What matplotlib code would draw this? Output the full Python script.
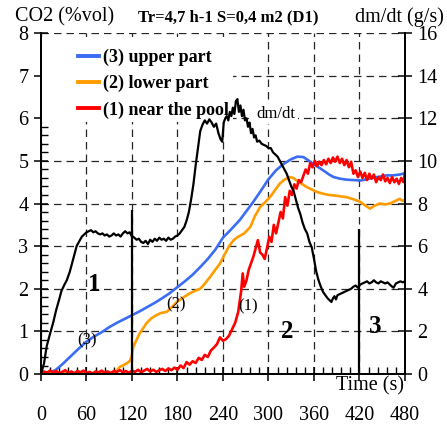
import numpy as np
import matplotlib
matplotlib.use("Agg")
import matplotlib.pyplot as plt
from matplotlib.ticker import MultipleLocator
from matplotlib.patches import Rectangle

plt.rcParams['font.family'] = ['Liberation Serif', 'DejaVu Serif']

# CO2 concentration (%vol), left axis
t_upper = [0, 5, 10, 15, 19, 25, 30, 40, 50, 60, 70, 80, 90, 100, 110, 120, 130, 140, 150, 160,
           170, 180, 190, 200, 210, 220, 230, 240, 250, 262, 270, 280, 290, 300, 310, 320, 330,
           338, 346, 352, 359, 366, 372, 380, 386, 395, 403, 412, 421, 430, 438, 447, 456, 464,
           473, 480]
co2_upper = [0.02, 0.03, 0.04, 0.06, 0.09, 0.18, 0.26, 0.43, 0.6, 0.76, 0.88, 0.98, 1.1, 1.2,
             1.29, 1.38, 1.47, 1.57, 1.67, 1.78, 1.9, 2.04, 2.18, 2.33, 2.51, 2.7, 2.92, 3.2,
             3.38, 3.61, 3.8, 4.04, 4.3, 4.57, 4.78, 4.93, 5.04, 5.1, 5.09, 5.02, 4.93, 4.85,
             4.78, 4.68, 4.62, 4.58, 4.56, 4.55, 4.54, 4.57, 4.61, 4.63, 4.66, 4.66, 4.68, 4.71]

t_lower = [0, 20, 40, 60, 80, 96, 100, 104, 108, 113, 117, 119.6, 121.7, 126, 130, 135, 139, 145,
           152, 158, 166, 172, 179, 188, 196, 203, 210, 216, 223, 230, 236, 242, 248, 254, 260,
           268, 276, 282, 289, 295, 302, 308, 315, 321, 328, 333, 337, 344, 350, 357, 364, 372,
           380, 386, 394, 403, 412, 421, 427, 434, 440, 447, 454, 460, 466, 473, 477, 480]
co2_lower = [0.01, 0.02, 0.01, 0.02, 0.02, 0.03, 0.08, 0.17, 0.2, 0.25, 0.3, 0.41, 0.64, 0.8,
             0.95, 1.08, 1.19, 1.3, 1.38, 1.43, 1.46, 1.56, 1.69, 1.8, 1.89, 1.95, 2.0, 2.12,
             2.28, 2.45, 2.59, 2.8, 3.0, 3.14, 3.22, 3.3, 3.45, 3.7, 3.92, 4.02, 4.15, 4.3, 4.47,
             4.56, 4.62, 4.6, 4.54, 4.46, 4.39, 4.33, 4.27, 4.23, 4.2, 4.19, 4.17, 4.15, 4.1,
             4.04, 3.96, 3.88, 3.95, 4.0, 3.98, 4.0, 4.05, 4.11, 4.06, 4.09]

t_pool = [0, 4, 8, 12, 16, 20, 24, 28, 32, 36, 40, 44, 48, 52, 56, 60, 64, 68, 72, 76, 80, 84,
          88, 92, 96, 100, 104, 108, 112, 116, 120, 124, 128, 132, 136, 140, 144, 148, 152, 156,
          160, 164, 168, 172, 176, 180, 184, 188, 192, 196, 200, 204, 208, 212, 216, 220, 224,
          228, 232, 236, 240, 244, 248, 252, 256, 260, 264, 266, 268, 271, 274, 277, 280, 283,
          286, 289, 292, 295, 298, 301, 304, 307, 310, 313, 316, 319, 322, 325, 328, 331, 334,
          337, 340, 343, 346, 349, 352, 355, 358, 361, 364, 367, 370, 373, 376, 379, 382, 385,
          388, 391, 394, 397, 400, 403, 406, 409, 412, 415, 418, 421, 424, 427, 430, 433, 436,
          439, 442, 445, 448, 451, 454, 457, 460, 463, 466, 469, 472, 475, 478, 480]
co2_pool = [0.02, 0.06, 0.03, 0.08, 0.04, 0.07, 0.02, 0.05, 0.09, 0.03, 0.06, 0.02, 0.07, 0.04,
            0.08, 0.03, 0.05, 0.01, 0.06, 0.04, 0.08, 0.03, 0.06, 0.02, 0.07, 0.05, 0.09, 0.04,
            0.07, 0.03, 0.08, 0.05, 0.1, 0.04, 0.08, 0.12, 0.06, 0.1, 0.05, 0.09, 0.12, 0.07,
            0.13, 0.09, 0.15, 0.1, 0.2, 0.14, 0.28, 0.22, 0.3, 0.26, 0.38, 0.33, 0.45, 0.4, 0.55,
            0.62, 0.7, 0.86, 0.78, 0.82, 0.9, 1.05, 1.2, 1.45, 1.95, 2.36, 2.05, 2.2, 2.45, 2.6,
            2.75, 2.95, 3.14, 2.85, 2.8, 2.7, 2.95, 3.22, 3.1, 3.5, 3.3, 3.55, 3.8, 3.65, 4.15,
            3.95, 4.3, 4.2, 4.45, 4.35, 4.55, 4.5, 4.65, 4.8, 4.7, 4.95, 4.85, 5.0, 4.88, 4.98,
            4.9, 5.02, 4.92, 5.05, 4.95, 5.08, 4.98, 5.1, 4.95, 5.05, 4.9, 5.02, 4.85, 4.98, 4.7,
            4.78, 4.62, 4.75, 4.6, 4.72, 4.55, 4.7, 4.58, 4.68, 4.5, 4.62, 4.55, 4.68, 4.52, 4.6,
            4.48, 4.62, 4.5, 4.58, 4.46, 4.6, 4.5, 4.72]

# mass loss rate dm/dt (g/s), right axis
t_mass = [0, 4, 7.5, 12, 16, 20, 24, 27, 31, 34, 38, 41, 44, 47, 50, 54, 57, 60, 63, 66, 69, 72,
          75, 78, 81, 84, 87, 90, 93, 96, 99, 102, 105, 108, 111, 114, 117, 119, 123, 126, 129,
          132, 135, 138, 141, 144, 147, 150, 153, 156, 159, 162, 165, 168, 171, 174, 177, 180,
          183, 186, 189, 192, 195, 198, 201, 204, 207, 210, 213, 216, 219, 222, 225, 228, 231,
          234, 237, 239, 241, 243, 245, 247, 249, 251, 253, 255, 257, 259, 261, 263, 265, 267,
          269, 271, 273, 275, 277, 279, 281, 283, 285, 288, 291, 294, 297, 300, 303, 306, 309,
          312, 315, 318, 321, 324, 327, 330, 333, 336, 339, 342, 345, 348, 351, 354, 357, 360,
          363, 366, 369, 372, 375, 378, 381, 383, 385, 387, 389, 391, 394, 397, 400, 403, 406,
          409, 412, 415, 418, 421, 424, 427, 430, 433, 436, 439, 442, 445, 448, 451, 454, 457,
          460, 463, 465, 468, 471, 474, 477, 480]
dmdt = [0, 0.5, 1.3, 1.9, 2.4, 3.0, 3.5, 3.9, 4.2, 4.4, 4.8, 5.2, 5.6, 6.0, 6.2, 6.45, 6.55,
        6.65, 6.7, 6.75, 6.65, 6.7, 6.6, 6.55, 6.6, 6.5, 6.55, 6.45, 6.5, 6.6, 6.5, 6.55, 6.45,
        6.6, 6.7, 6.6, 6.65, 6.5, 6.4, 6.3, 6.35, 6.2, 6.15, 6.25, 6.1, 6.3, 6.2, 6.35, 6.25,
        6.4, 6.3, 6.35, 6.25, 6.4, 6.3, 6.35, 6.45, 6.5, 6.6, 6.75, 6.9, 7.2, 7.6, 8.2, 8.9,
        9.8, 10.6, 11.4, 11.7, 11.9, 11.75, 11.95, 11.8, 11.6, 11.75, 11.3, 11.0, 10.9, 11.8,
        12.0, 12.1, 11.9, 12.3, 12.1, 12.5, 12.2, 12.8, 12.9, 12.3, 12.6, 12.1, 12.4, 11.9,
        12.0, 11.6, 11.8, 11.3, 11.5, 11.1, 11.2, 10.9, 10.95, 10.8, 10.75, 10.7, 10.6, 10.6,
        10.4, 10.3, 10.2, 10.0, 9.8, 9.6, 9.4, 9.1, 8.8, 8.6, 8.2, 7.8, 7.5, 7.1, 6.8, 6.6,
        6.2, 5.95, 5.4, 4.8, 4.4, 4.1, 3.85, 3.7, 3.55, 3.45, 3.38, 3.55, 3.65, 3.5, 3.7, 3.75,
        3.8, 3.85, 3.9, 3.95, 4.0, 4.1, 4.15, 4.05, 4.2, 4.25, 4.3, 4.35, 4.25, 4.3, 4.4, 4.3,
        4.25, 4.35, 4.3, 4.25, 4.3, 4.2, 4.1, 4.05, 4.25, 4.3, 4.35, 4.3, 4.35]

# phase boundaries and how high their markers go (%vol)
phase_t = [120, 420]
phase_top = [3.84, 3.4]

fig = plt.figure(figsize=(4.47, 4.26), dpi=100)
ax = fig.add_axes([0.0917, 0.122, 0.8143, 0.8005])
ax2 = ax.twinx()

ax.set_xlim(0, 480)
ax.set_ylim(0, 8)
ax2.set_ylim(0, 16)
ax.xaxis.set_major_locator(MultipleLocator(60))
ax.xaxis.set_minor_locator(MultipleLocator(12))
ax.yaxis.set_major_locator(MultipleLocator(1))
ax.yaxis.set_minor_locator(MultipleLocator(0.2))
ax2.yaxis.set_major_locator(MultipleLocator(2))

for a in (ax, ax2):
    a.spines['top'].set_visible(False)
    for s in a.spines.values():
        s.set_linewidth(1.3)

ax.grid(True, which='major', color='0.15', linestyle=(0, (6, 4)), linewidth=0.9)
ax.set_axisbelow(True)

ax.tick_params(axis='both', which='major', direction='inout', length=10, width=1.1,
               labelsize=14.5)
ax.tick_params(axis='x', which='major', pad=18)
ax.tick_params(axis='y', which='major', pad=4)
ax.tick_params(axis='both', which='minor', direction='in', length=5, width=1.0)
ax2.tick_params(axis='y', which='major', direction='inout', length=10, width=1.1,
                labelsize=14.5, pad=4)

# white block behind the legend, hiding the grid there
ax.add_patch(Rectangle((0, 0.739), 0.527, 0.25, transform=ax.transAxes,
                       facecolor='white', edgecolor='none', zorder=1.5))

ax.plot(t_upper, co2_upper, color='#3a6cf4', lw=1.9, label='(3) upper part', zorder=2)
ax.plot(t_lower, co2_lower, color='#ff9c00', lw=1.9, label='(2) lower part', zorder=2)
ax.plot(t_pool, co2_pool, color='#ff0000', lw=1.9, label='(1) near the pool', zorder=2)
ax.vlines(phase_t, 0, phase_top, colors='black', lw=1.6, zorder=4)

ax2.plot(t_mass, dmdt, color='black', lw=1.6)

leg = ax.legend(loc='upper left', bbox_to_anchor=(0.102, 0.954), frameon=False,
                borderpad=0, handlelength=1.15, handletextpad=0.25, labelspacing=0.5,
                borderaxespad=0, prop={'weight': 'bold', 'size': 13})
for h in leg.get_lines():
    h.set_linewidth(2.8)

ax.text(70, 2.11, '1', fontsize=18, fontweight='bold', ha='center', va='center')
ax.text(325, 1.0, '2', fontsize=18, fontweight='bold', ha='center', va='center')
ax.text(440.5, 1.11, '3', fontsize=18, fontweight='bold', ha='center', va='center')
ax.text(60.7, 0.8, '(3)', fontsize=12, ha='center', va='center')
ax.text(178, 1.64, '(2)', fontsize=12, ha='center', va='center')
ax.text(273, 1.59, '(1)', fontsize=12, ha='center', va='center')
ax.text(310, 6.11, 'dm/dt', fontsize=12, ha='center', va='center',
        bbox=dict(facecolor='white', edgecolor='none', pad=2))
ax.text(434, -0.28, 'Time (s)', fontsize=14.5, ha='center', va='center')

fig.text(15 / 447, 1 - 17 / 426, 'CO2 (%vol)', fontsize=14.5, ha='left', va='center')
fig.text(228 / 447, 1 - 17 / 426, 'Tr=4,7 h-1 S=0,4 m2 (D1)', fontsize=12, fontweight='bold',
         ha='center', va='center')
fig.text(355 / 447, 1 - 17 / 426, 'dm/dt (g/s)', fontsize=14.5, ha='left', va='center')

fig.savefig('out.png', dpi=100)
